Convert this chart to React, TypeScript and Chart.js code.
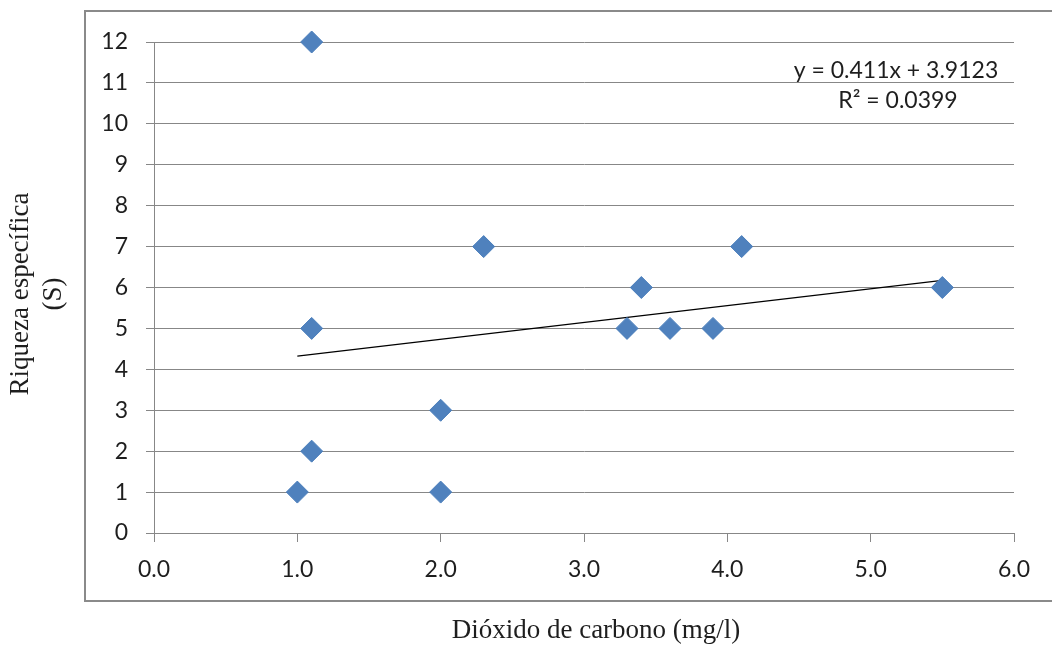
import { useEffect, useRef } from "react";
import { Chart, registerables } from "chart.js";

Chart.register(...registerables);

// ---- data ----
const co2Values = [1.0, 1.1, 1.1, 1.1, 2.0, 2.0, 2.3, 3.3, 3.4, 3.6, 3.9, 4.1, 5.5];
const richnessValues = [1, 12, 5, 2, 1, 3, 7, 5, 6, 5, 5, 7, 6];
const xTickValues = [0, 1, 2, 3, 4, 5, 6];
const yTickValues = [0, 1, 2, 3, 4, 5, 6, 7, 8, 9, 10, 11, 12];
const equationLabel = "y = 0.411x + 3.9123";
const r2Label = "R² = 0.0399";
const xTitle = "Dióxido de carbono (mg/l)";
const yTitleLines = ["Riqueza específica", "(S)"];

// least-squares trend line derived from the points
function regression(xs: number[], ys: number[]) {
  const n = xs.length;
  const mx = xs.reduce((a, b) => a + b, 0) / n;
  const my = ys.reduce((a, b) => a + b, 0) / n;
  let sxy = 0;
  let sxx = 0;
  for (let i = 0; i < n; i++) {
    sxy += (xs[i] - mx) * (ys[i] - my);
    sxx += (xs[i] - mx) * (xs[i] - mx);
  }
  const slope = sxy / sxx;
  return { slope, intercept: my - slope * mx };
}

const GRID = "#878787";
const TEXT = "#1e1e1e";
const TICK_FONT = "Lato";
const SERIF = "'Liberation Serif', 'Times New Roman', serif";

export default function App() {
  const ref = useRef<HTMLCanvasElement | null>(null);

  useEffect(() => {
    if (!ref.current) return;
    const { slope, intercept } = regression(co2Values, richnessValues);
    const xMin = Math.min(...co2Values);
    const xMax = Math.max(...co2Values);

    const decor = {
      id: "decor",
      afterDraw(chart: any) {
        const ctx = chart.ctx as CanvasRenderingContext2D;
        ctx.save();
        // outer frame
        ctx.strokeStyle = "#8a8a8a";
        ctx.lineWidth = 2;
        ctx.strokeRect(85, 11, 1100, 590);

        // equation labels
        ctx.fillStyle = TEXT;
        ctx.font = `23px ${TICK_FONT}`;
        ctx.textAlign = "center";
        ctx.textBaseline = "alphabetic";
        ctx.fillText(equationLabel, 896, 78);
        ctx.fillText(r2Label, 898, 108);

        // x title
        ctx.font = `27px ${SERIF}`;
        ctx.fillText(xTitle, 596, 638);

        // y title
        const bases = [28, 61];
        yTitleLines.forEach((line, i) => {
          ctx.save();
          ctx.translate(bases[i], 294);
          ctx.rotate(-Math.PI / 2);
          ctx.fillText(line, 0, 0);
          ctx.restore();
        });
        ctx.restore();
      },
    };

    const chart = new Chart(ref.current, {
      type: "scatter",
      data: {
        datasets: [
          {
            type: "scatter",
            data: co2Values.map((x, i) => ({ x, y: richnessValues[i] })),
            pointStyle: "rectRot",
            pointRadius: 11,
            backgroundColor: "#4F81BD",
            borderColor: "#4A7EBB",
            borderWidth: 1,
            clip: false,
          } as any,
          {
            type: "line",
            data: [
              { x: xMin, y: slope * xMin + intercept },
              { x: xMax, y: slope * xMax + intercept },
            ],
            borderColor: "#000000",
            borderWidth: 1.2,
            pointRadius: 0,
            fill: false,
          } as any,
        ],
      },
      options: {
        responsive: false,
        animation: false,
        layout: { padding: { top: 42, right: 38, left: 0, bottom: 0 } },
        plugins: { legend: { display: false }, tooltip: { enabled: false } },
        scales: {
          x: {
            type: "linear",
            min: xTickValues[0],
            max: xTickValues[xTickValues.length - 1],
            afterBuildTicks: (s: any) => {
              s.ticks = xTickValues.map((v) => ({ value: v }));
            },
            afterFit: (s: any) => {
              s.height = 113;
            },
            ticks: {
              callback: (v: any) => Number(v).toFixed(1),
              font: { family: TICK_FONT, size: 23 },
              color: TEXT,
              padding: 14,
              maxRotation: 0,
            },
            grid: { drawOnChartArea: false, drawTicks: true, tickLength: 9, color: GRID },
            border: { color: GRID, width: 1 },
          },
          y: {
            type: "linear",
            min: yTickValues[0],
            max: yTickValues[yTickValues.length - 1],
            afterBuildTicks: (s: any) => {
              s.ticks = yTickValues.map((v) => ({ value: v }));
            },
            afterFit: (s: any) => {
              s.width = 154;
            },
            ticks: {
              font: { family: TICK_FONT, size: 23 },
              color: TEXT,
              padding: 18,
            },
            grid: { color: GRID, tickLength: 8 },
            border: { color: GRID, width: 1 },
          },
        },
      },
      plugins: [decor],
    } as any);

    return () => chart.destroy();
  }, []);

  return (
    <div style={{ position: "absolute", left: 0, top: 0, width: 1052, height: 646, background: "#fff" }}>
      <canvas ref={ref} width={1052} height={646} />
    </div>
  );
}
